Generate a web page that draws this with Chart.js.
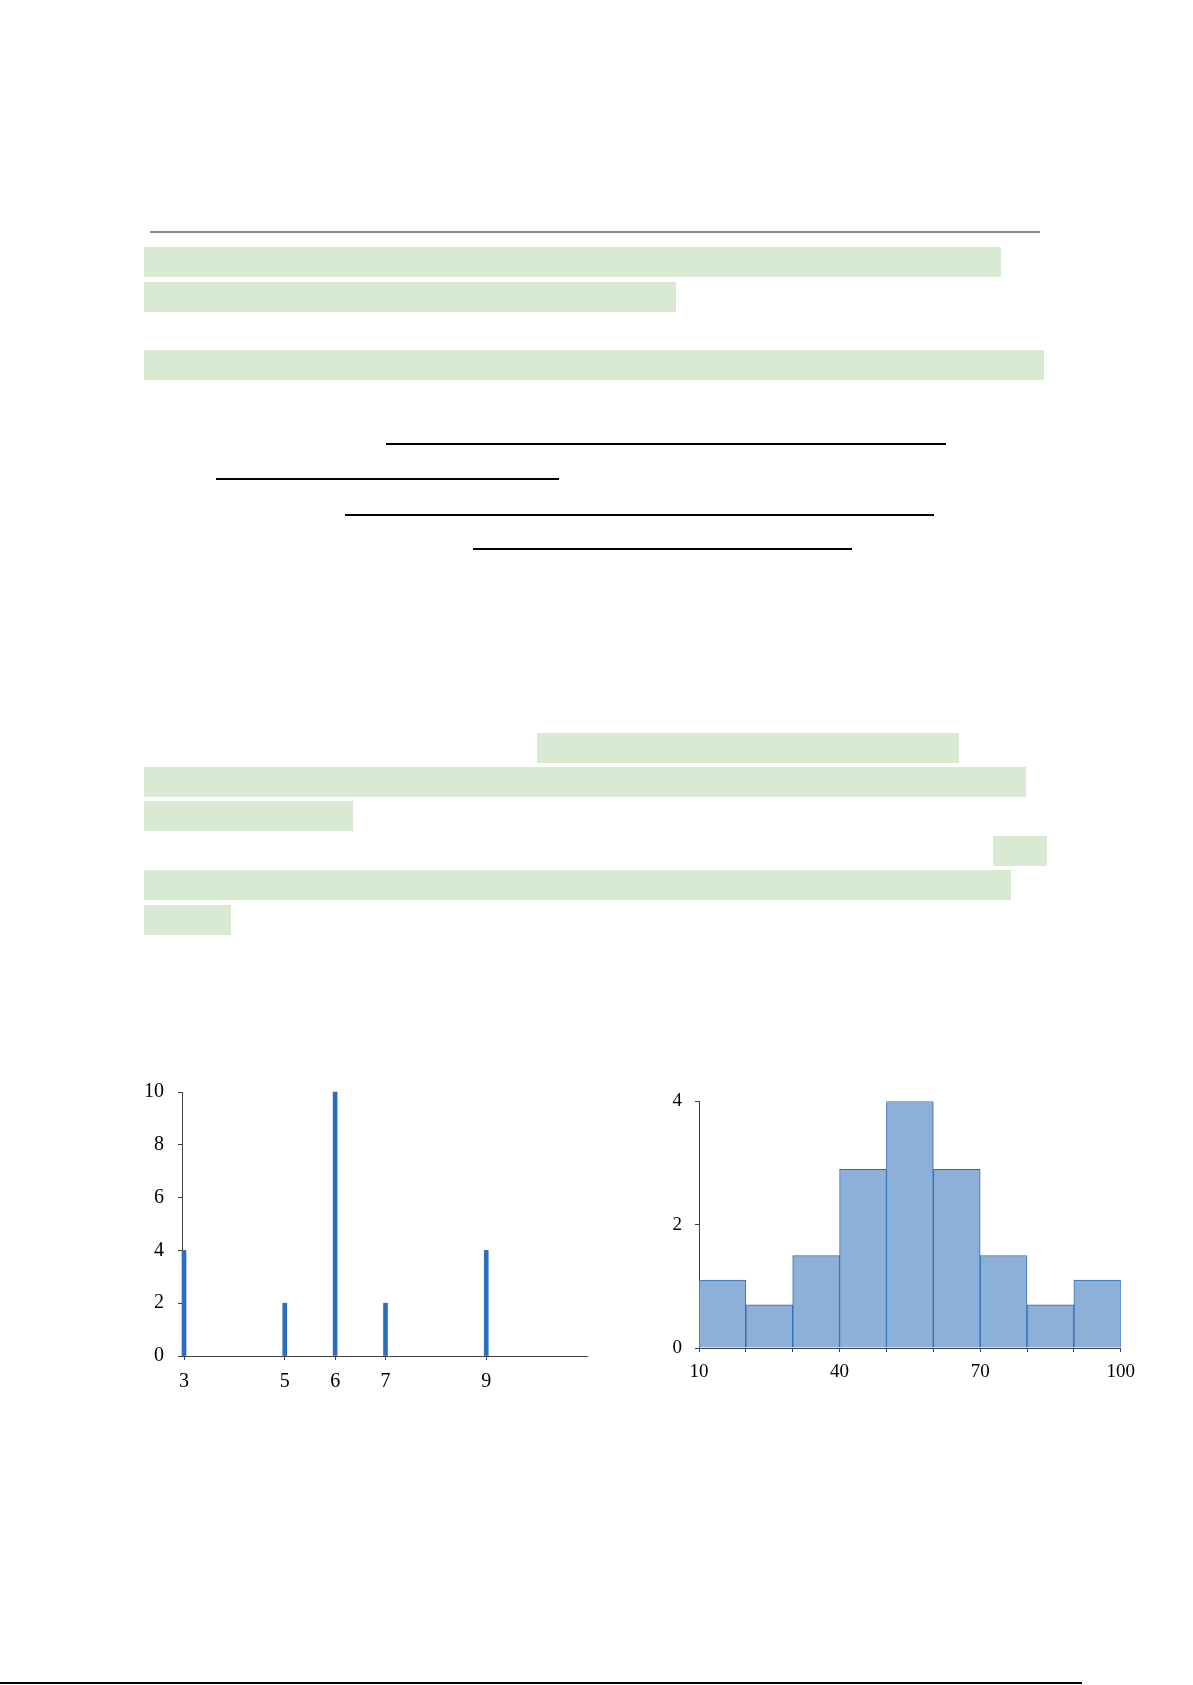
<!DOCTYPE html>
<html lang="en">
<head>
  <meta charset="UTF-8">
  <title>Frequency charts</title>
  <script src="https://cdn.jsdelivr.net/npm/chart.js"></script>
  <style>
    html, body {
      margin: 0;
      padding: 0;
      background: #fff;
    }
    .page {
      position: relative;
      width: 1193px;
      height: 1685px;
      overflow: hidden;
    }
    .hl {
      position: absolute;
      background: #d9ead3;
    }
    .rule {
      position: absolute;
      height: 2px;
      background: #000;
    }
    .chart-box {
      position: absolute;
    }
  </style>
</head>
<body>
<div class="page">
  <div class="rule" style="left:150px; top:231px; width:890px; background:#888;"></div>

  <div class="hl" style="left:144px; top:247px; width:857px; height:30px;"></div>
  <div class="hl" style="left:144px; top:282px; width:532px; height:30px;"></div>
  <div class="hl" style="left:144px; top:350px; width:900px; height:30px;"></div>

  <div class="rule" style="left:386px; top:443px; width:560px;"></div>
  <div class="rule" style="left:216px; top:478px; width:343px;"></div>
  <div class="rule" style="left:345px; top:514px; width:589px;"></div>
  <div class="rule" style="left:473px; top:548px; width:379px;"></div>

  <div class="hl" style="left:537px; top:733px; width:422px; height:30px;"></div>
  <div class="hl" style="left:144px; top:767px; width:882px; height:30px;"></div>
  <div class="hl" style="left:144px; top:801px; width:209px; height:30px;"></div>
  <div class="hl" style="left:993px; top:836px; width:54px; height:30px;"></div>
  <div class="hl" style="left:144px; top:870px; width:867px; height:30px;"></div>
  <div class="hl" style="left:144px; top:905px; width:87px; height:30px;"></div>

  <div class="chart-box" style="left:120px; top:1066px; width:490px; height:330px;">
    <canvas id="spikeChart"></canvas>
  </div>
  <div class="chart-box" style="left:630px; top:1077px; width:514px; height:313px;">
    <canvas id="histChart"></canvas>
  </div>

  <div class="rule" style="left:0; top:1682px; width:1082px;"></div>
</div>

<script>
// left chart: counts at a few discrete values
const spikeX = [3, 5, 6, 7, 9];
const spikeY = [4, 2, 10, 2, 4];
const spikeTicks = [3, 5, 6, 7, 9];

// right chart: histogram, bins of width 10 from 10 to 100
const binCenters = [15, 25, 35, 45, 55, 65, 75, 85, 95];
const binHeights = [1.1, 0.7, 1.5, 2.9, 4, 2.9, 1.5, 0.7, 1.1];
const histLabelTicks = [10, 40, 70, 100];

const axisColor = '#404040';
const serif = "'Liberation Serif', 'Times New Roman', serif";

function axis(extra, tickOpts, size) {
  return Object.assign({
    border: { display: true, color: axisColor, width: 1 },
    grid: { display: true, offset: false, drawOnChartArea: false, drawTicks: true, tickLength: 4, color: axisColor },
    ticks: Object.assign({ color: '#000', font: { family: serif, size: size } }, tickOpts)
  }, extra);
}

new Chart(document.getElementById('spikeChart'), {
  type: 'bar',
  data: {
    datasets: [{
      data: spikeX.map((x, i) => ({ x: x, y: spikeY[i] })),
      backgroundColor: '#2a6ebd',
      borderWidth: 0,
      barThickness: 4,
      clip: false
    }]
  },
  options: {
    responsive: true,
    maintainAspectRatio: false,
    animation: false,
    layout: { padding: { top: 18, right: 23, left: 0, bottom: 0 } },
    plugins: { legend: { display: false }, tooltip: { enabled: false } },
    scales: {
      x: axis({
        type: 'linear',
        min: 2.96,
        max: 11,
        offset: false,
        afterBuildTicks: a => { a.ticks = spikeTicks.map(v => ({ value: v })); },
        afterFit: s => { s.height = 40; }
      }, { padding: 10, autoSkip: false, maxRotation: 0 }, 20),
      y: axis({
        min: 0,
        max: 10,
        afterFit: s => { s.width = 62; }
      }, { stepSize: 2, padding: 14 }, 20)
    }
  }
});

new Chart(document.getElementById('histChart'), {
  type: 'bar',
  data: {
    datasets: [{
      data: binCenters.map((c, i) => ({ x: c, y: binHeights[i] })),
      backgroundColor: '#8db0d9',
      borderColor: '#2f6db5',
      borderWidth: 1,
      barPercentage: 1,
      categoryPercentage: 1
    }]
  },
  options: {
    responsive: true,
    maintainAspectRatio: false,
    animation: false,
    layout: { padding: { top: 19, right: 19, left: 0, bottom: 0 } },
    plugins: { legend: { display: false }, tooltip: { enabled: false } },
    scales: {
      x: axis({
        type: 'linear',
        min: 10,
        max: 100,
        offset: false,
        afterFit: s => { s.height = 42; }
      }, {
        stepSize: 10, padding: 9, autoSkip: false, maxRotation: 0,
        callback: v => histLabelTicks.includes(v) ? String(v) : ''
      }, 19),
      y: axis({
        min: 0,
        max: 4,
        afterFit: s => { s.width = 69; }
      }, { stepSize: 2, padding: 13 }, 19)
    }
  }
});
</script>
</body>
</html>
